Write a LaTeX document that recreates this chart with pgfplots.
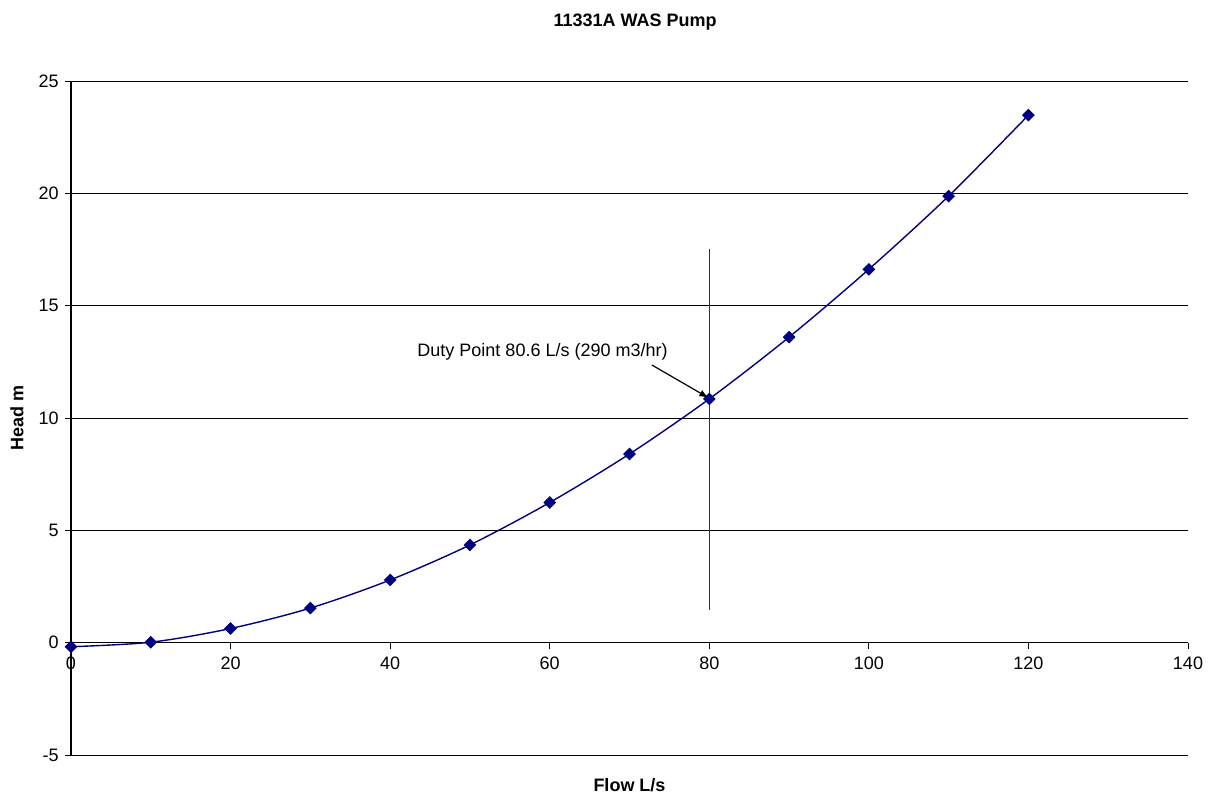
\documentclass[border=0pt]{standalone}
\usepackage{fontspec}
\setmainfont{Liberation Sans}
\usepackage{pgfplots}
\pgfplotsset{compat=1.18}
\definecolor{navyline}{HTML}{000080}
\begin{document}
\fontsize{9pt}{11pt}\selectfont
\begin{tikzpicture}
\path[use as bounding box] (-35.5pt,-22pt) rectangle (570pt,377.5pt);
\begin{axis}[
  scale only axis,
  width=558.5pt, height=337pt,
  xmin=0, xmax=140, ymin=-5, ymax=25,
  xtick={0,20,...,140}, ytick={-5,0,...,25},
  axis x line=middle, axis y line=left,
  axis line style={-, black, line width=0.6pt},
  hide obscured x ticks=false, hide obscured y ticks=false,
  tick align=outside, major tick length=3pt,
  tick style={black, line width=0.5pt},
  ymajorgrids, grid style={black, line width=0.5pt},
  /pgf/number format/assume math mode=true,
  ticklabel style={font=\fontsize{9pt}{11pt}\selectfont},
  x tick label style={yshift=-1pt},
  xlabel={\bfseries Flow L/s},
  xlabel style={at={(axis description cs:0.5,-0.0445)}, anchor=center},
  ylabel={\bfseries Head m},
  ylabel style={at={(axis description cs:-0.0483,0.5)}, anchor=center, rotate=0},
  clip=false,
]
\addplot[color=navyline, line width=0.7pt, smooth, tension=0.5,
  mark=square*, mark size=1.9pt, mark options={rotate=45, fill=navyline, draw=navyline}]
  coordinates {
  (0,-0.18) (10,0.02) (20,0.63) (30,1.54) (40,2.79) (50,4.35) (60,6.24)
  (70,8.40) (80,10.85) (90,13.6) (100,16.62) (110,19.88) (120,23.48)
  };
\addplot[color=black!80, line width=0.6pt, no marks] coordinates {(80,17.52) (80,1.45)};
\node at (axis cs:59.1,12.95) {Duty Point 80.6 L/s (290 m3/hr)};
\draw[-latex, line width=0.6pt] (axis cs:72.8,12.36) -- (axis cs:79.9,10.9);
\node[font=\bfseries] at (axis description cs:0.505,1.0875) {11331A WAS Pump};
\end{axis}
\end{tikzpicture}
\end{document}
